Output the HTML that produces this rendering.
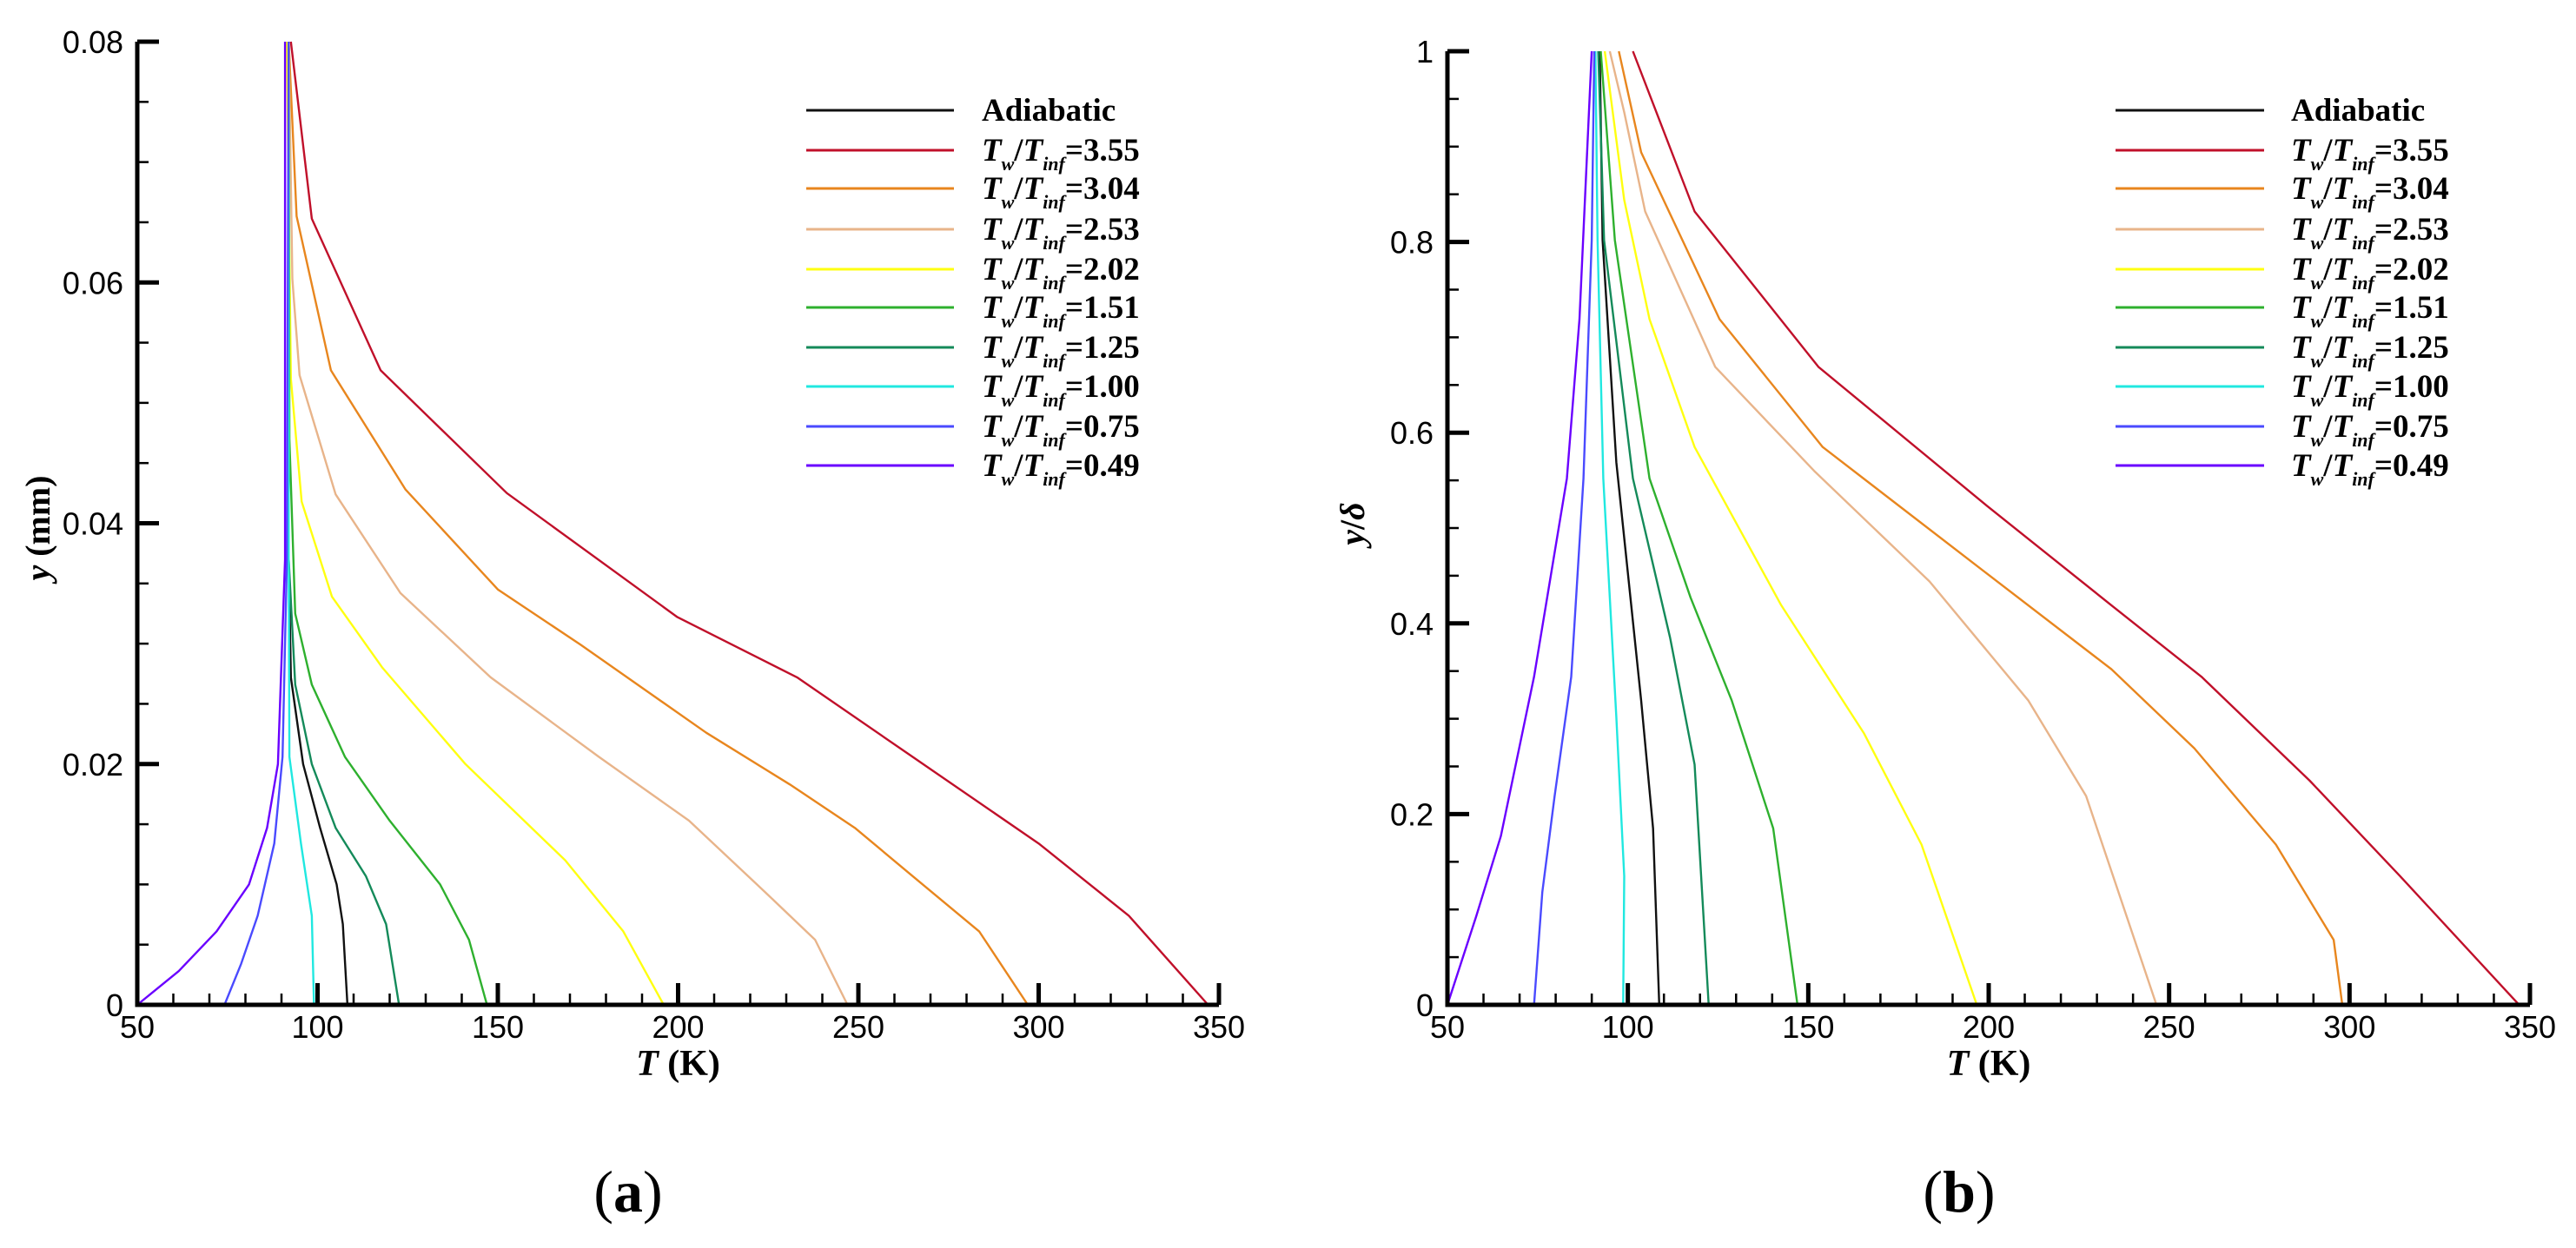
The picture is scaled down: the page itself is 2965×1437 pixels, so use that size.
<!DOCTYPE html>
<html><head><meta charset="utf-8"><style>
html,body{margin:0;padding:0;background:#fff;}
svg{display:block;}
</style></head><body>
<svg id="fig" width="2965" height="1437" viewBox="0 0 2965 1437" xmlns="http://www.w3.org/2000/svg"></svg>
<script>
// ---- data ----
const seriesNames = ["Adiabatic","3.55","3.04","2.53","2.02","1.51","1.25","1.00","0.75","0.49"];
const seriesColors = ["#111111","#c0102a","#e8861e","#e8b48a","#ffff10","#2eb02e","#148a5a","#20e8e0","#4a4aff","#6a00ff"];
const xTickLabels = ["50","100","150","200","250","300","350"];
const yTickLabelsA = ["0","0.02","0.04","0.06","0.08"];
const yTickLabelsB = ["0","0.2","0.4","0.6","0.8","1"];
// plot (a): T (K), y (mm)
const aT_adi=[92,92,92.6,96,100.7,105.3,107,108.3];
const aY_adi=[0.08,0.037,0.0272,0.02,0.0147,0.01,0.0067,0];
const aT_355=[92.6,98.4,117.5,152.5,199.8,233,265,300,325,347];
const aY_355=[0.08,0.0653,0.0527,0.0425,0.0322,0.0272,0.0206,0.0134,0.0074,0];
const aT_304=[92,94.2,103.7,124.4,150,173,207.8,231,249,265,283.5,297];
const aY_304=[0.08,0.0655,0.0527,0.0428,0.0345,0.0299,0.0226,0.0183,0.0147,0.0107,0.0061,0];
const aT_253=[92,93,95,105,123,148,178,203,224,238,247];
const aY_253=[0.08,0.0603,0.0523,0.0424,0.0342,0.0272,0.0206,0.0153,0.0094,0.0054,0];
const aT_202=[91.5,92.6,95.6,104,118,141,168.7,184.8,196];
const aY_202=[0.08,0.052,0.0418,0.0339,0.028,0.02,0.012,0.0061,0];
const aT_151=[92,92.2,93.8,98.4,107.6,120,134,142,147];
const aY_151=[0.08,0.047,0.0325,0.0266,0.0206,0.0153,0.01,0.0054,0];
const aT_125=[92,92,93.8,98.4,105,113.4,119,122.6];
const aY_125=[0.08,0.037,0.0266,0.02,0.0147,0.0107,0.0067,0];
const aT_100=[92,92,92.2,95.4,98.4,99];
const aY_100=[0.08,0.037,0.0206,0.0134,0.0074,0];
const aT_075=[92,91.5,90.3,88,83.4,78.8,74.2];
const aY_075=[0.08,0.037,0.0206,0.0134,0.0074,0.0034,0];
const aT_049=[91,91,89,86,81,72,61.5,50];
const aY_049=[0.08,0.037,0.02,0.0147,0.01,0.0061,0.0028,0];
// plot (b): T (K), y/delta
const bT_adi=[92.2,93,96.8,103.7,107,108.7];
const bY_adi=[1,0.802,0.569,0.319,0.185,0];
const bT_355=[101.4,118.5,152.8,199.6,234,259,289,314,347];
const bY_355=[1,0.832,0.669,0.523,0.419,0.344,0.235,0.135,0];
const bT_304=[97.5,103.7,125.4,154,199.6,234,257,279.6,295.6,298];
const bY_304=[1,0.894,0.719,0.585,0.452,0.352,0.269,0.168,0.068,0];
const bT_253=[95,99,104.8,124.2,151.6,183.6,211,227,246.5];
const bY_253=[1,0.936,0.832,0.669,0.56,0.444,0.319,0.219,0];
const bT_202=[93.6,99,106,118.5,142.5,165.4,181.4,196.7];
const bY_202=[1,0.844,0.719,0.585,0.419,0.285,0.168,0];
const bT_151=[92.5,96.4,106,117.4,128.8,140.3,147];
const bY_151=[1,0.802,0.552,0.427,0.319,0.185,0];
const bT_125=[91.8,93.4,101.4,111.7,118.5,122.4];
const bY_125=[1,0.802,0.552,0.385,0.252,0];
const bT_100=[91,91.6,93.2,96.8,99,98.7];
const bY_100=[1,0.802,0.552,0.302,0.135,0];
const bT_075=[90.7,90,87.7,84.3,79.7,76.3,74];
const bY_075=[1,0.802,0.552,0.344,0.219,0.118,0];
const bT_049=[90,86.6,83.1,74,64.8,58,50];
const bY_049=[1,0.719,0.552,0.344,0.177,0.093,0];

const aSeriesT=[aT_adi,aT_355,aT_304,aT_253,aT_202,aT_151,aT_125,aT_100,aT_075,aT_049];
const aSeriesY=[aY_adi,aY_355,aY_304,aY_253,aY_202,aY_151,aY_125,aY_100,aY_075,aY_049];
const bSeriesT=[bT_adi,bT_355,bT_304,bT_253,bT_202,bT_151,bT_125,bT_100,bT_075,bT_049];
const bSeriesY=[bY_adi,bY_355,bY_304,bY_253,bY_202,bY_151,bY_125,bY_100,bY_075,bY_049];

const NS="http://www.w3.org/2000/svg";
const svg=document.getElementById('fig');
function mk(tag,attrs,parent){const e=document.createElementNS(NS,tag);for(const k in attrs)e.setAttribute(k,attrs[k]);(parent||svg).appendChild(e);return e;}

function drawPlot(cfg){
  const g=mk('g',{});
  
  
  const sx=t=>cfg.x0+(t-50)/(300)*(cfg.x1-cfg.x0);
  const sy=v=>cfg.y0-(v/cfg.ymax)*(cfg.y0-cfg.y1);
  for(let i=0;i<cfg.T.length;i++){
    const pts=cfg.T[i].map((t,j)=>sx(t).toFixed(1)+','+sy(cfg.Y[i][j]).toFixed(1)).join(' ');
    const p=mk('polyline',{points:pts,fill:'none',stroke:seriesColors[i],'stroke-width':2.4,'stroke-linejoin':'round'},g);
    
    
  }
  const ax=mk('path',{d:`M${cfg.x0},${cfg.y1} V${cfg.y0} H${cfg.x1}`,fill:'none',stroke:'#000','stroke-width':5},g);
  
  
  for(let t=50;t<=350;t+=10){
    const major=(t%50===0);
    mk('line',{x1:sx(t),x2:sx(t),y1:cfg.y0,y2:cfg.y0-(major?25:13),stroke:'#000','stroke-width':major?5:2.5},g);
  }
  xTickLabels.forEach((s,i)=>{
    const t=mk('text',{x:sx(50+50*i),y:1195,'text-anchor':'middle','font-family':'Liberation Sans, sans-serif','font-size':36},g);
    t.textContent=s;
    
    
  });
  const nMinor=cfg.yLabels.length-1;
  for(let k=0;k<=nMinor*cfg.minorPer;k++){
    const v=k*cfg.ymax/(nMinor*cfg.minorPer);
    const major=(k%cfg.minorPer===0);
    mk('line',{x1:cfg.x0,x2:cfg.x0+(major?25:13),y1:sy(v),y2:sy(v),stroke:'#000','stroke-width':major?5:2.5},g);
  }
  cfg.yLabels.forEach((s,i)=>{
    const v=i*cfg.ymax/nMinor;
    const t=mk('text',{x:cfg.x0-16,y:sy(v)+13,'text-anchor':'end','font-family':'Liberation Sans, sans-serif','font-size':36},g);
    t.textContent=s;
    
    
  });
  const xt=mk('text',{x:(cfg.x0+cfg.x1)/2,y:1238,'text-anchor':'middle','font-family':'Liberation Serif, serif','font-size':42,'font-weight':'bold'},g);
  xt.innerHTML='<tspan font-style="italic">T</tspan> (K)';
  
  
  const yt=mk('text',{x:cfg.ytx,y:cfg.yty,'text-anchor':'middle','font-family':'Liberation Serif, serif','font-size':40,'font-weight':'bold',transform:`rotate(-90 ${cfg.ytx} ${cfg.yty})`},g);
  yt.innerHTML=cfg.yTitle;
  
  
  const lg=mk('g',{},g);
  
  
  const ly=[127,173,217,264,310,354,400,445,491,536];
  for(let i=0;i<seriesNames.length;i++){
    const e=mk('g',{},lg);
    
    
    mk('line',{x1:cfg.lx0,x2:cfg.lx1,y1:ly[i],y2:ly[i],stroke:seriesColors[i],'stroke-width':3},e);
    const t=mk('text',{x:cfg.ltx,y:ly[i]+12,'font-family':'Liberation Serif, serif','font-size':37,'font-weight':'bold'},e);
    if(i===0) t.textContent='Adiabatic';
    else t.innerHTML='<tspan font-style="italic">T</tspan><tspan font-style="italic" font-size="22" dy="11">w</tspan><tspan dy="-11">/</tspan><tspan font-style="italic">T</tspan><tspan font-style="italic" font-size="22" dy="11">inf</tspan><tspan dy="-11">='+seriesNames[i]+'</tspan>';
  }
  const c=mk('text',{x:cfg.capx,y:1395,'text-anchor':'middle','font-family':'Liberation Serif, serif','font-size':68},g);
  c.innerHTML='(<tspan font-weight="bold">'+cfg.cap+'</tspan>)';
  
  
}
drawPlot({name:'plot-a',x0:158,x1:1403,y0:1157,y1:48,ymax:0.08,yLabels:yTickLabelsA,minorPer:4,T:aSeriesT,Y:aSeriesY,
  ytx:57,yty:608,yTitle:'<tspan font-style="italic">y</tspan> (mm)',lx0:928,lx1:1098,ltx:1130,capx:723,cap:'a'});
drawPlot({name:'plot-b',x0:1666,x1:2912,y0:1157,y1:59,ymax:1,yLabels:yTickLabelsB,minorPer:4,T:bSeriesT,Y:bSeriesY,
  ytx:1570,yty:603,yTitle:'<tspan font-style="italic">y</tspan>/<tspan font-style="italic">δ</tspan>',lx0:2435,lx1:2606,ltx:2637,capx:2255,cap:'b'});
</script>
</body></html>
